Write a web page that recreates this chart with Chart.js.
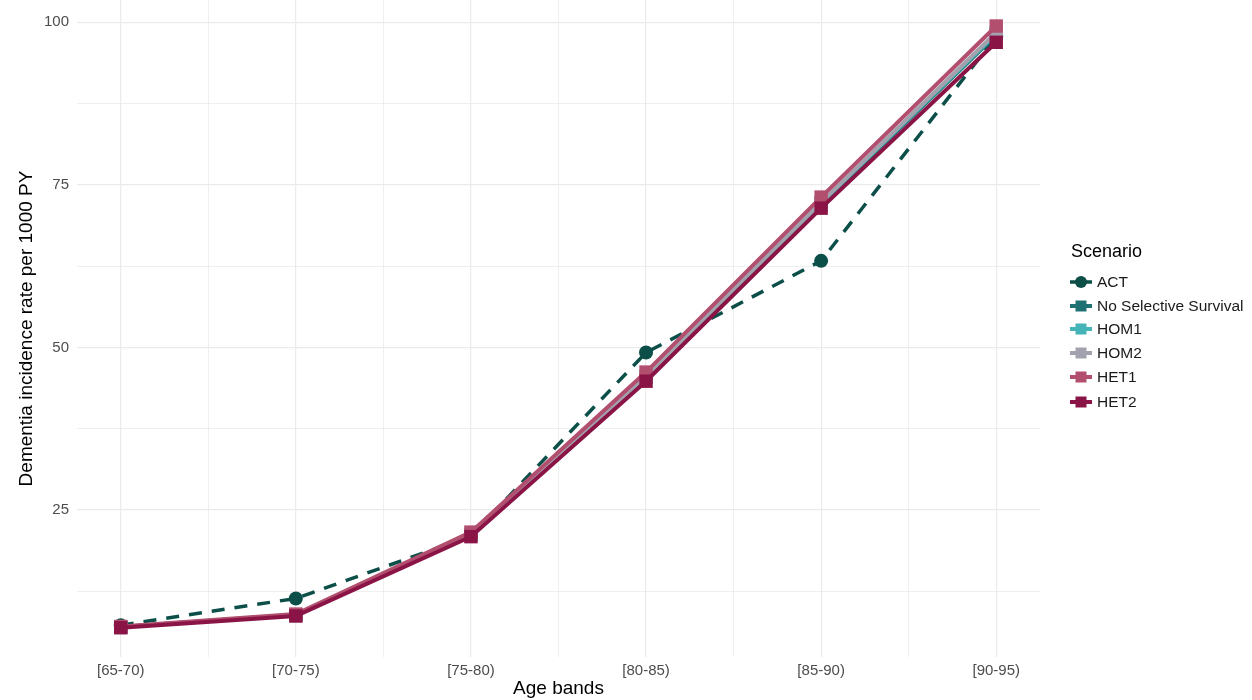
<!DOCTYPE html>
<html><head><meta charset="utf-8">
<script src="https://cdn.jsdelivr.net/npm/chart.js@4.4.1/dist/chart.umd.min.js"></script>
<style>html,body{margin:0;padding:0;background:#fff;}#wrap{width:1252px;height:700px;position:relative;}</style>
</head><body><div id="wrap"><canvas id="c" width="1252" height="700"></canvas></div>
<script>
// ---- data ----
const categories = ['[65-70)', '[70-75)', '[75-80)', '[80-85)', '[85-90)', '[90-95)'];
const seriesNames = ['ACT', 'No Selective Survival', 'HOM1', 'HOM2', 'HET1', 'HET2'];
const actRates   = [7.3, 11.4, 21.0, 49.2, 63.3, 97.8];
const noSelRates = [7.0, 8.9, 21.2, 45.4, 72.0, 98.0];
const hom1Rates  = [7.0, 8.9, 21.2, 45.5, 72.2, 98.2];
const hom2Rates  = [7.0, 8.9, 21.3, 45.6, 72.3, 98.4];
const het1Rates  = [7.1, 9.0, 21.6, 46.2, 73.1, 99.4];
const het2Rates  = [6.9, 8.7, 20.9, 44.8, 71.4, 96.9];
const yTickValues = [12.5, 25, 37.5, 50, 62.5, 75, 87.5, 100];
const yTickLabels = ['', '25', '', '50', '', '75', '', '100'];
const xTickValues = [1, 1.5, 2, 2.5, 3, 3.5, 4, 4.5, 5, 5.5, 6];

// ---- styles ----
const FONT = "'Liberation Sans', Arial, Helvetica, sans-serif";
const colors = ['#0c4f49', '#1f7274', '#44b4b8', '#a2a2af', '#b24f6f', '#8b1446'];
const styles = [
  {dash: [13, 10], width: 3.5, shape: 'circle', r: 7},
  {dash: [], width: 4, shape: 'rect', r: 9.5},
  {dash: [], width: 4, shape: 'rect', r: 9.5},
  {dash: [], width: 4, shape: 'rect', r: 9.5},
  {dash: [], width: 4, shape: 'rect', r: 9.5},
  {dash: [], width: 4, shape: 'rect', r: 9.5}
];
const allValues = [actRates, noSelRates, hom1Rates, hom2Rates, het1Rates, het2Rates];

const datasets = allValues.map((vals, i) => ({
  label: seriesNames[i],
  data: vals.map((v, j) => ({x: j + 1, y: v})),
  borderColor: colors[i],
  backgroundColor: colors[i],
  borderWidth: styles[i].width,
  borderDash: styles[i].dash,
  pointStyle: styles[i].shape,
  pointRadius: styles[i].r,
  pointHoverRadius: styles[i].r,
  pointBackgroundColor: colors[i],
  pointBorderWidth: 0,
  tension: 0,
  fill: false,
  clip: false,
  order: 6 - i
}));

const legendPlugin = {
  id: 'ggLegend',
  afterDraw(chart) {
    const ctx = chart.ctx;
    ctx.save();
    ctx.fillStyle = '#000';
    ctx.font = '18px ' + FONT;
    ctx.textBaseline = 'middle';
    ctx.textAlign = 'left';
    ctx.fillText('Scenario', 1071, 252);
    const ys = [282, 306, 329, 353, 377, 402];
    seriesNames.forEach((name, i) => {
      const y = ys[i];
      const cx = 1081;
      ctx.strokeStyle = colors[i];
      ctx.lineWidth = styles[i].width;
      ctx.setLineDash([]);
      ctx.beginPath();
      ctx.moveTo(cx - 11, y);
      ctx.lineTo(cx + 11, y);
      ctx.stroke();
      ctx.fillStyle = colors[i];
      ctx.beginPath();
      if (styles[i].shape === 'circle') {
        ctx.arc(cx, y, 6, 0, Math.PI * 2);
      } else {
        ctx.rect(cx - 5.5, y - 5.5, 11, 11);
      }
      ctx.fill();
      ctx.fillStyle = '#1a1a1a';
      ctx.font = '15.5px ' + FONT;
      ctx.fillText(name, 1097, y + 1);
    });
    ctx.restore();
  }
};

new Chart(document.getElementById('c'), {
  type: 'line',
  data: {datasets},
  plugins: [legendPlugin],
  options: {
    responsive: false,
    animation: false,
    events: [],
    layout: {autoPadding: false, padding: {left: 0, right: 212, top: 0, bottom: 0}},
    plugins: {legend: {display: false}, tooltip: {enabled: false}},
    scales: {
      x: {
        type: 'linear',
        min: 0.75,
        max: 6.25,
        afterFit(scale) { scale.height = 43; scale.paddingLeft = 0; scale.paddingRight = 0; },
        afterBuildTicks(scale) { scale.ticks = xTickValues.map(v => ({value: v})); },
        border: {display: false},
        grid: {
          color: '#ebebeb',
          lineWidth: ctx => (Number.isInteger(ctx.tick && ctx.tick.value) ? 1.2 : 0.8),
          drawTicks: false
        },
        ticks: {
          autoSkip: false,
          maxRotation: 0,
          padding: 5,
          color: '#4d4d4d',
          font: {family: FONT, size: 15},
          callback: v => (Number.isInteger(v) ? categories[v - 1] : '')
        },
        title: {
          display: true,
          text: 'Age bands',
          color: '#000',
          font: {family: FONT, size: 19},
          padding: {top: 0, bottom: 0}
        }
      },
      y: {
        type: 'linear',
        min: 2.4,
        max: 103.4,
        afterFit(scale) { scale.width = 77; scale.paddingTop = 0; scale.paddingBottom = 0; },
        afterBuildTicks(scale) { scale.ticks = yTickValues.map(v => ({value: v})); },
        border: {display: false},
        grid: {
          color: '#ebebeb',
          lineWidth: ctx => ((ctx.tick && ctx.tick.value % 25 === 0) ? 1.2 : 0.8),
          drawTicks: false
        },
        ticks: {
          padding: 8,
          color: '#4d4d4d',
          font: {family: FONT, size: 15},
          callback: v => {
            const k = yTickValues.indexOf(v);
            return k >= 0 ? yTickLabels[k] : '';
          }
        },
        title: {
          display: true,
          text: 'Dementia incidence rate per 1000 PY',
          color: '#000',
          font: {family: FONT, size: 19},
          padding: {top: 15, bottom: 0}
        }
      }
    }
  }
});
</script>
</body></html>
